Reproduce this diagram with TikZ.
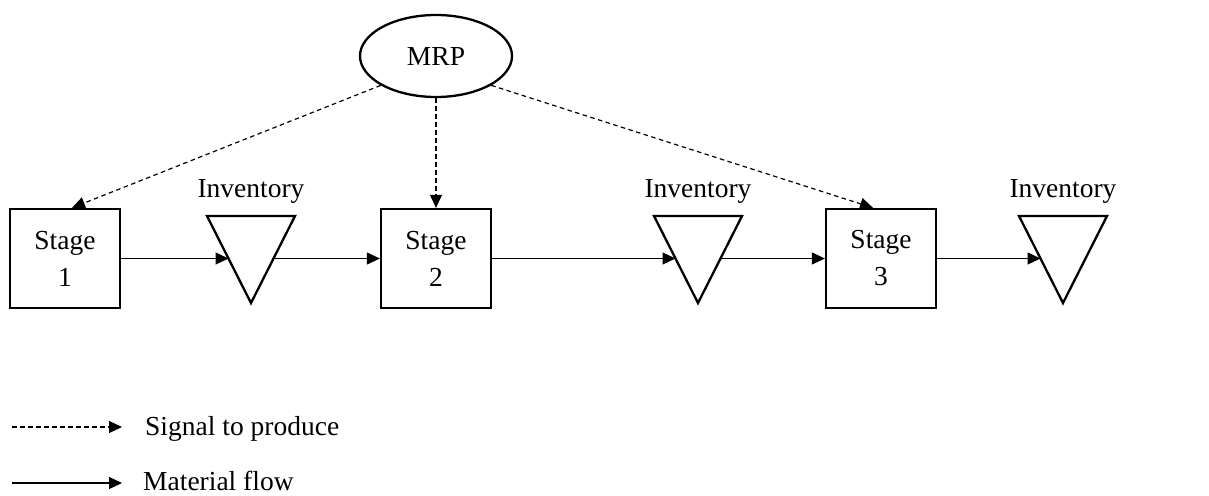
\documentclass[tikz,border=0pt]{standalone}
\usepackage{fontspec}
\setmainfont{Liberation Serif}
\usetikzlibrary{arrows.meta,calc,shapes.geometric}

\begin{document}
\begin{tikzpicture}[x=1pt,y=-1pt,
  every node/.style={font=\fontsize{27.5}{37}\selectfont},
  stagebox/.style={draw,line width=2.3pt,minimum width=110pt,minimum height=99pt,
    align=center,inner sep=0pt},
  planner/.style={draw,ellipse,line width=2.3pt,minimum width=152pt,minimum height=82pt,inner sep=0pt},
  stock/.style={line width=2.3pt,line join=miter},
  material/.style={-{Triangle[length=13pt,width=12pt]},line width=1.2pt},
  signal/.style={material,dash pattern=on 4.5pt off 3.5pt}
]
\useasboundingbox (0,0) rectangle (1209,495);

% planning system
\node[planner] (mrp) at (436,56) {MRP};

% production stages
\node[stagebox] (s1) at (65,258.5)  {Stage\\1};
\node[stagebox] (s2) at (436,258.5) {Stage\\2};
\node[stagebox] (s3) at (881,258.5) {Stage\\3};

% inventory buffers (downward triangles) with side points for the flow arrows
\foreach \n/\x in {1/251,2/698,3/1063}{
  \draw[stock] (\x-44,216) -- (\x+44,216) -- (\x,303) -- cycle;
  \coordinate (t\n l) at (\x-22.5,258.5);
  \coordinate (t\n r) at (\x+22.5,258.5);
  \node[anchor=base] (inv\n) at (\x,197) {Inventory};
}

% material flow
\draw[material] (s1.east) -- (t1l);
\draw[material] (t1r) -- (s2.west);
\draw[material] (s2.east) -- (t2l);
\draw[material] (t2r) -- (s3.west);
\draw[material] (s3.east) -- (t3l);

% production signals
\coordinate (s1in) at ($(s1.north)+(7,0)$);
\coordinate (s3in) at ($(s3.north)+(-8,0)$);
\draw[signal] (mrp.208) -- (s1in);
\draw[signal] (mrp.south) -- (s2.north);
\draw[signal] (mrp.332) -- (s3in);

% legend
\coordinate (lga) at (12,427);
\coordinate (lgb) at (122,427);
\coordinate (lgc) at (12,483);
\coordinate (lgd) at (122,483);
\draw[signal] (lga) -- (lgb);
\draw[material] (lgc) -- (lgd);
\node[anchor=base west,inner sep=0pt] (lgsig) at (145,435) {Signal to produce};
\node[anchor=base west,inner sep=0pt] (lgmat) at (143,490) {Material flow};
\end{tikzpicture}
\end{document}
